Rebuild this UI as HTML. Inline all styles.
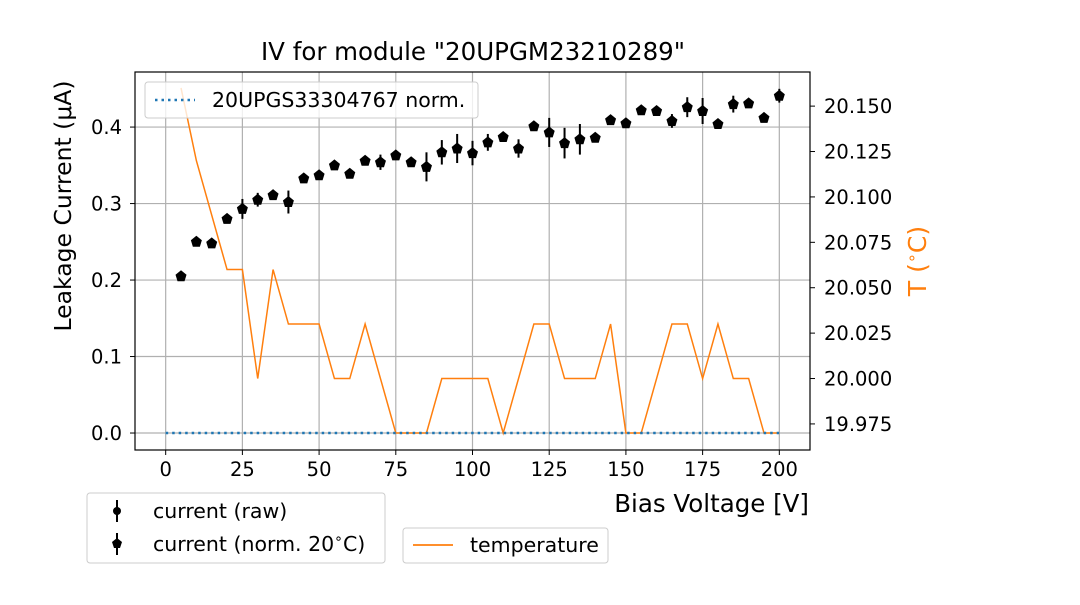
<!DOCTYPE html>
<html><head><meta charset="utf-8"><style>body{margin:0;background:#fff}svg{font-family:"DejaVu Sans","Liberation Sans",sans-serif}</style></head>
<body>
<svg id="c" width="1080" height="600" viewBox="0 0 1080 600">
<g id="grid"></g>
<g id="temp"></g>
<g id="ref"></g>
<g id="pts"></g>
<rect x="135" y="72" width="675" height="378" fill="none" stroke="#000" stroke-width="1.2"/>
<g id="axes"></g>
<text x="473" y="60" font-size="24.5" text-anchor="middle">IV for module "20UPGM23210289"</text>
<text x="809" y="512" font-size="24.5" text-anchor="end">Bias Voltage [V]</text>
<text transform="translate(71,206) rotate(-90)" font-size="23.5" text-anchor="middle">Leakage Current (μA)</text>
<text transform="translate(926,261) rotate(-90)" font-size="25" fill="#ff7f0e" text-anchor="middle">T (<tspan font-size="16" dy="-9">∘</tspan><tspan dy="9">C)</tspan></text>
<g>
<rect x="145" y="82" width="333" height="36" rx="3" fill="#fff" fill-opacity="0.8" stroke="#ccc"/>
<line x1="155" y1="100" x2="195" y2="100" stroke="#1f77b4" stroke-width="2.5" stroke-dasharray="2.5,4"/>
<text x="212" y="107" font-size="20.5">20UPGS33304767 norm.</text>
</g>
<g>
<rect x="87" y="493" width="298" height="70" rx="3" fill="#fff" stroke="#ccc"/>
<line x1="117" y1="500" x2="117" y2="522" stroke="#000" stroke-width="2"/><circle cx="117" cy="511" r="4"/>
<text x="153" y="518" font-size="20.5">current (raw)</text>
<line x1="117" y1="533" x2="117" y2="555" stroke="#000" stroke-width="2"/><polygon points="117,538 122,542 120,548 114,548 112,542"/>
<text x="153" y="551" font-size="20.5">current (norm. 20<tspan font-size="14" dy="-8">∘</tspan><tspan dy="8">C)</tspan></text>
</g>
<g>
<rect x="403" y="528" width="205" height="35" rx="3" fill="#fff" stroke="#ccc"/>
<line x1="413" y1="545" x2="453" y2="545" stroke="#ff7f0e" stroke-width="1.8"/>
<text x="470" y="552" font-size="20.5">temperature</text>
</g>
</svg>
<script>
const voltages=[5,10,15,20,25,30,35,40,45,50,55,60,65,70,75,80,85,90,95,100,105,110,115,120,125,130,135,140,145,150,155,160,165,170,175,180,185,190,195,200];
const currents=[0.205,0.250,0.248,0.280,0.293,0.305,0.311,0.302,0.333,0.337,0.350,0.339,0.356,0.354,0.363,0.354,0.348,0.367,0.372,0.366,0.380,0.387,0.372,0.401,0.393,0.379,0.384,0.386,0.409,0.405,0.422,0.421,0.408,0.426,0.421,0.404,0.430,0.431,0.412,0.441];
const currentErrors=[0.003,0.004,0.004,0.004,0.013,0.009,0.004,0.015,0.003,0.005,0.003,0.004,0.004,0.010,0.004,0.005,0.019,0.016,0.019,0.016,0.011,0.006,0.012,0.004,0.019,0.020,0.020,0.004,0.004,0.004,0.004,0.004,0.009,0.013,0.017,0.004,0.011,0.004,0.004,0.009];
const temperatures=[20.16,20.12,20.09,20.06,20.06,20.00,20.06,20.03,20.03,20.03,20.00,20.00,20.03,20.00,19.97,19.97,19.97,20.00,20.00,20.00,20.00,19.97,20.00,20.03,20.03,20.00,20.00,20.00,20.03,19.97,19.97,20.00,20.03,20.03,20.00,20.03,20.00,20.00,19.97,19.97];
const refVoltages=[0,200];
const refCurrents=[0,0];
const xTicks=[0,25,50,75,100,125,150,175,200];
const yTicks=[0.0,0.1,0.2,0.3,0.4];
const y2Ticks=[19.975,20.000,20.025,20.050,20.075,20.100,20.125,20.150];
const NS='http://www.w3.org/2000/svg';
const X=v=>135+(v+10)/220*675;
const Y=v=>450-(v+0.0222)/(0.472+0.0222)*378;
const Y2=v=>433-(v-19.97)*1816;
function mk(tag,attrs,parent){const e=document.createElementNS(NS,tag);for(const k in attrs)e.setAttribute(k,attrs[k]);document.getElementById(parent).appendChild(e);return e;}
xTicks.forEach(t=>{
 const g=mk('line',{x1:X(t),x2:X(t),y1:72,y2:450,stroke:'#b0b0b0','stroke-width':1.2},'grid');
 
 
 mk('line',{x1:X(t),x2:X(t),y1:450,y2:455,stroke:'#000'},'axes');
 const tx=mk('text',{x:X(t),y:476,'font-size':19.5,'text-anchor':'middle'},'axes');tx.textContent=t;
 
 
});
yTicks.forEach(t=>{
 const g=mk('line',{x1:135,x2:810,y1:Y(t),y2:Y(t),stroke:'#b0b0b0','stroke-width':1.2},'grid');
 
 
 mk('line',{x1:130,x2:135,y1:Y(t),y2:Y(t),stroke:'#000'},'axes');
 const tx=mk('text',{x:122,y:Y(t)+7,'font-size':19.5,'text-anchor':'end'},'axes');tx.textContent=t.toFixed(1);
 
 
});
y2Ticks.forEach(t=>{
 mk('line',{x1:810,x2:815,y1:Y2(t),y2:Y2(t),stroke:'#000'},'axes');
 const tx=mk('text',{x:824,y:Y2(t)+7,'font-size':19.5},'axes');tx.textContent=t.toFixed(3);
 
 
});
const tl=mk('polyline',{points:voltages.map((v,i)=>X(v)+','+Y2(temperatures[i])).join(' '),fill:'none',stroke:'#ff7f0e','stroke-width':1.5},'temp');


const rl=mk('line',{x1:X(refVoltages[0]),x2:X(refVoltages[1]),y1:Y(refCurrents[0]),y2:Y(refCurrents[1]),stroke:'#1f77b4','stroke-width':2.5,'stroke-dasharray':'2.5,4'},'ref');


voltages.forEach((v,i)=>{
 const cx=X(v),cy=Y(currents[i]),e=currentErrors[i];
 const eb=mk('line',{x1:cx,x2:cx,y1:Y(currents[i]+e),y2:Y(currents[i]-e),stroke:'#000','stroke-width':2},'pts');
 
 
 const p=mk('polygon',{points:[[0,-6],[5.5,-1.5],[3.5,5],[-3.5,5],[-5.5,-1.5]].map(q=>(cx+q[0])+','+(cy+q[1])).join(' '),fill:'#000'},'pts');
 
 
});
</script>
</body></html>
